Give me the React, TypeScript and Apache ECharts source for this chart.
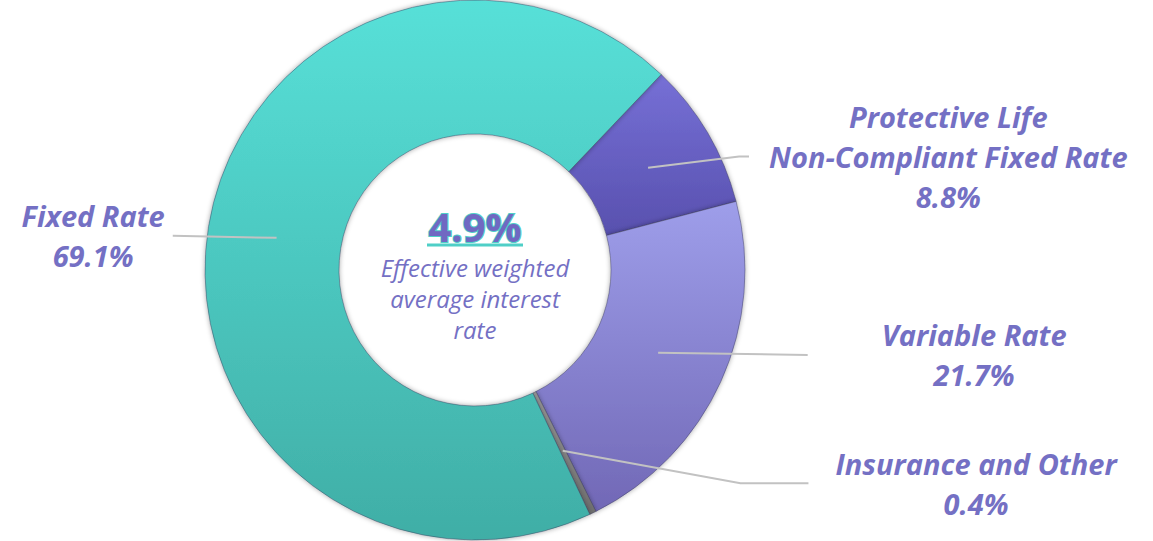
import React, { useEffect, useRef } from "react";
import * as echarts from "echarts";

// ---- data ----
const categories = [
  "Protective Life\nNon-Compliant Fixed Rate",
  "Variable Rate",
  "Insurance and Other",
  "Fixed Rate",
];
const shares = [8.8, 21.7, 0.4, 69.1];
const centerValue = "4.9%";
const centerCaption = ["Effective weighted", "average interest", "rate"];

// ---- styling ----
const sliceColors = [
  ["#7670d6", "#5850ae"],
  ["#9e9eea", "#7168b6"],
  ["#9a9a9a", "#6e6e6e"],
  ["#57e0d8", "#40aea6"],
];
// per-slice label line geometry: [length, length2, distanceToLabelLine, tail]
const labelGeom = [
  [22, 82, 20, 10],
  [5, 145, 74, 0],
  [36, 230, 27, 68],
  [12, 92, 8, 0],
];
const LABEL_COLOR = "#7470c4";
const FONT = "Open Sans";

export default function App() {
  const ref = useRef<HTMLDivElement>(null);
  useEffect(() => {
    if (!ref.current) return;
    const chart = echarts.init(ref.current, null, { renderer: "svg" });
    const grad = (c: string[]) =>
      new echarts.graphic.LinearGradient(0, 0, 0, 1, [
        { offset: 0, color: c[0] },
        { offset: 1, color: c[1] },
      ]);
    const donutData = categories.map((name, i) => ({
      name,
      value: shares[i],
      itemStyle: { color: grad(sliceColors[i]) },
    }));
    const labelData = categories.map((name, i) => ({
      name,
      value: shares[i],
      label: { distanceToLabelLine: labelGeom[i][2] },
      labelLine: { length: labelGeom[i][0], length2: labelGeom[i][1] },
    }));
    chart.setOption({
      animation: false,
      series: [
        {
          type: "pie",
          center: [475, 270],
          radius: [136, 270],
          startAngle: 46.4,
          clockwise: true,
          silent: true,
          label: { show: false },
          labelLine: { show: false },
          itemStyle: {
            borderColor: "rgba(60,60,90,0.45)",
            borderWidth: 1,
            shadowColor: "rgba(0,0,0,0.35)",
            shadowBlur: 5,
          },
          emphasis: { disabled: true },
          data: donutData,
        },
        {
          type: "pie",
          center: [475, 270],
          radius: [0, 201],
          startAngle: 46.4,
          clockwise: true,
          silent: true,
          z: 5,
          avoidLabelOverlap: false,
          itemStyle: { color: "rgba(0,0,0,0)", borderWidth: 0 },
          emphasis: { disabled: true },
          label: {
            show: true,
            position: "outside",
            formatter: (p: any) =>
              p.name
                .split("\n")
                .map((s: string) => `{t|${s}}`)
                .join("\n") + `\n{t|${Number(p.value).toFixed(1)}%}`,
            rich: {
              t: {
                fontFamily: FONT,
                fontWeight: "bold",
                fontStyle: "italic",
                fontSize: 29,
                lineHeight: 40,
                color: LABEL_COLOR,
                align: "center",
              },
            },
          },
          labelLine: {
            show: true,
            lineStyle: { color: "#c2c2c2", width: 2, opacity: 1 },
          },
          labelLayout: (params: any) => {
            const pts = params.labelLinePoints;
            if (!pts) return {};
            const tail = labelGeom[params.dataIndex][3];
            const end = pts[2];
            const sign = end[0] < pts[0][0] ? -1 : 1;
            const mid = tail > 0 ? [end[0] - sign * tail, end[1]] : [end[0], end[1]];
            return { labelLinePoints: [pts[0], mid, end] };
          },
          data: labelData,
        },
      ],
      graphic: [
        {
          type: "text",
          x: 475,
          y: 226,
          z: 10,
          style: {
            text: centerValue,
            fontFamily: FONT,
            fontWeight: "bold",
            fontSize: 40,
            fill: "#7068c2",
            stroke: "#4fd0c8",
            lineWidth: 2,
            align: "center",
            verticalAlign: "middle",
          },
        },
        {
          type: "line",
          z: 10,
          shape: { x1: 427, y1: 245, x2: 523, y2: 245 },
          style: { stroke: "#4fcfc7", lineWidth: 3 },
        },
        {
          type: "text",
          x: 475,
          y: 252,
          z: 10,
          style: {
            text: centerCaption.join("\n"),
            fontFamily: FONT,
            fontStyle: "italic",
            fontSize: 24,
            lineHeight: 31,
            fill: LABEL_COLOR,
            align: "center",
            verticalAlign: "top",
          },
        },
      ],
    });
    return () => chart.dispose();
  }, []);
  return (
    <div
      ref={ref}
      style={{ position: "fixed", left: 0, top: 0, width: 1153, height: 541, background: "#fff" }}
    />
  );
}
